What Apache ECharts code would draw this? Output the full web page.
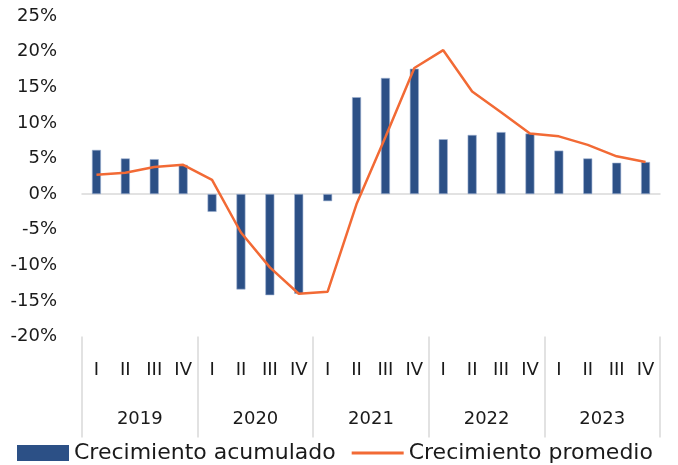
<!DOCTYPE html>
<html><head><meta charset="utf-8">
<script src="https://cdn.jsdelivr.net/npm/echarts@6/dist/echarts.min.js"></script>
<style>html,body{margin:0;padding:0;background:#fff}#c{width:678px;height:465px}</style>
</head><body><div id="c"></div>
<script>
const quarters = ['I','II','III','IV','I','II','III','IV','I','II','III','IV','I','II','III','IV','I','II','III','IV'];
const years = ['2019','2020','2021','2022','2023'];
const acumulado = [6.2, 5.0, 4.9, 4.1, -2.5, -13.4, -14.2, -14.0, -1.0, 13.6, 16.3, 17.6, 7.7, 8.3, 8.7, 8.5, 6.1, 5.0, 4.4, 4.5];
const promedio = [2.7, 3.0, 3.8, 4.1, 2.0, -5.4, -10.3, -14.0, -13.7, -1.4, 8.0, 17.7, 20.2, 14.4, 11.5, 8.5, 8.1, 6.9, 5.3, 4.5];
const yTicks = {min: -20, max: 25, interval: 5};
const FONT = "'DejaVu Sans', sans-serif";
const chart = echarts.init(document.getElementById('c'), null, {renderer: 'canvas'});
chart.setOption({
  animation: false,
  grid: {left: 82, right: 18, top: 16, bottom: 128.5, containLabel: false},
  legend: {
    top: 437, left: 12, itemGap: 16, itemWidth: 52, itemHeight: 16,
    textStyle: {fontFamily: FONT, fontSize: 22, color: '#1a1a1a'},
    data: [
      {name: 'Crecimiento acumulado', icon: 'rect', itemStyle: {borderWidth: 0}},
      {name: 'Crecimiento promedio', icon: 'path://M0,0 L52,0 L52,3 L0,3 Z'}
    ]
  },
  xAxis: [
    {type: 'category', data: quarters, gridIndex: 0,
     axisLine: {onZero: true, lineStyle: {color: '#d9d9d9', width: 1.5}},
     axisTick: {show: false}, axisLabel: {show: false}},
    {type: 'category', data: quarters, position: 'bottom', offset: 0,
     axisLine: {show: false}, axisTick: {show: false},
     axisLabel: {margin: 25, fontFamily: FONT, fontSize: 18, color: '#1a1a1a'}},
    {type: 'category', data: years, position: 'bottom', offset: 0,
     axisLine: {show: false},
     axisTick: {show: true, length: 101, lineStyle: {color: '#d9d9d9', width: 1.5}},
     axisLabel: {margin: 74, fontFamily: FONT, fontSize: 18, color: '#1a1a1a'}}
  ],
  yAxis: {
    type: 'value', min: yTicks.min, max: yTicks.max, interval: yTicks.interval,
    axisLine: {show: false}, axisTick: {show: false}, splitLine: {show: false},
    axisLabel: {formatter: '{value}%', margin: 25, fontFamily: FONT, fontSize: 18, color: '#1a1a1a'}
  },
  series: [
    {name: 'Crecimiento acumulado', type: 'bar', data: acumulado, barWidth: 9,
     itemStyle: {color: '#2c5086', borderColor: '#9fb2d2', borderWidth: 0.6}},
    {name: 'Crecimiento promedio', type: 'line', data: promedio, showSymbol: false, symbol: 'none',
     lineStyle: {color: '#f26a35', width: 2.5}, itemStyle: {color: '#f26a35'}}
  ]
});
</script></body></html>
